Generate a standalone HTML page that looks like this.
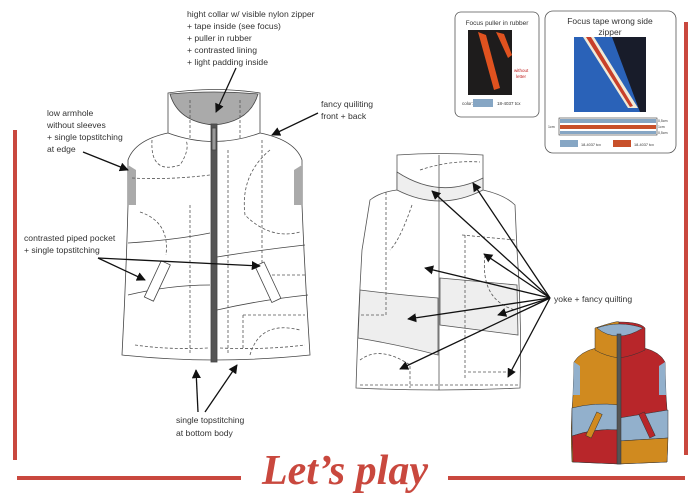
<!DOCTYPE html>
<html><head><meta charset="utf-8"><style>
html,body{margin:0;padding:0;background:#fff;width:700px;height:495px;overflow:hidden}
svg{display:block}
text{font-family:"Liberation Sans",sans-serif;fill:#333}
</style></head><body>
<svg width="700" height="495" viewBox="0 0 700 495" xmlns="http://www.w3.org/2000/svg">
<defs>
<marker id="a" viewBox="0 0 10 10" refX="9" refY="5" markerWidth="7" markerHeight="7" orient="auto"><path d="M0,0L10,5L0,10z" fill="#111"/></marker>
</defs>
<rect x="13" y="130" width="4" height="330" fill="#c9483e"/>
<rect x="684" y="22" width="4" height="433" fill="#c9483e"/>
<rect x="17" y="476" width="224" height="4" fill="#c9483e"/>
<rect x="448" y="476" width="237" height="4" fill="#c9483e"/>
<text x="345" y="484" text-anchor="middle" style="font-family:'Liberation Serif',serif;font-style:italic;font-weight:bold;font-size:42px;fill:#c9483e">Let’s play</text>

<g font-size="8.6">
<text x="187" y="17">hight collar w/ visible nylon zipper</text>
<text x="187" y="29">+ tape inside (see focus)</text>
<text x="187" y="41">+ puller in rubber</text>
<text x="187" y="53">+ contrasted lining</text>
<text x="187" y="65">+ light padding inside</text>
<text x="47" y="116">low armhole</text>
<text x="47" y="128">without sleeves</text>
<text x="47" y="140">+ single topstitching</text>
<text x="47" y="152">at edge</text>
<text x="321" y="107">fancy quiliting</text>
<text x="321" y="119">front + back</text>
<text x="24" y="241">contrasted piped pocket</text>
<text x="24" y="253">+ single topstitching</text>
<text x="176" y="423">single topstitching</text>
<text x="176" y="436">at bottom body</text>
<text x="554" y="302">yoke + fancy quilting</text>
</g>

<g stroke="#444" stroke-width="0.8" fill="#fff">
<path d="M128,160 Q135,140 168,133 L168,93 Q214,86 260,93 L260,133 Q295,140 302,160 L302,205 Q305,280 310,355 Q214,365 122,355 Q126,280 128,205 Z"/>
<path d="M170,94 Q214,90 258,94 Q250,122 214,125 Q178,122 170,94Z" fill="#aaa"/>
<path d="M128,165 L136,170 L136,205 L128,205Z" fill="#aaa" stroke="none"/>
<path d="M302,165 L294,170 L294,205 L302,205Z" fill="#aaa" stroke="none"/>
<path d="M168,133 Q214,150 260,133" fill="none"/>
<rect x="211" y="124" width="6" height="238" fill="#555"/>
<rect x="212" y="128" width="4" height="22" fill="#999"/>
<path d="M128,243 Q175,240 210,233 M217,257 Q260,250 305,245 M128,295 Q170,285 210,285 M217,310 Q260,300 308,295" fill="none"/>
<g stroke-dasharray="3,2" fill="none" stroke="#555">
<path d="M132,178 Q170,180 210,175 M135,345 Q170,350 208,348 M220,348 Q265,350 305,345"/>
<path d="M190,100 L190,140 M240,100 L240,140 M190,205 L190,355 M228,150 L228,355 M262,140 L262,275 L305,275"/>
<path d="M152,140 Q150,175 180,165 Q190,150 186,140 M140,212 Q170,222 166,255 M270,150 Q240,175 245,215 Q270,240 300,232 M243,315 L305,315 M243,315 L243,350 M250,355 Q260,320 300,330"/>
</g>
<g transform="rotate(25 160 280)"><rect x="153" y="262" width="10" height="40"/></g>
<g transform="rotate(-25 268 280)"><rect x="262" y="262" width="10" height="40"/></g>
</g>

<g stroke="#555" stroke-width="0.8" fill="#fff">
<path d="M370,200 Q380,192 397,190 L397,155 Q440,152 483,155 L483,190 Q505,195 515,205 L517,250 Q522,320 520,388 Q440,392 356,388 Q358,320 362,250 Z"/>
<path d="M397,172 Q440,200 483,178 L483,190 Q440,212 397,190Z" fill="#eee"/>
<path d="M360,290 Q400,295 438,298 L438,355 Q400,345 358,338Z" fill="#eee"/>
<path d="M440,278 L517,285 L518,335 Q480,330 440,325Z" fill="#eee"/>
<line x1="439" y1="155" x2="439" y2="390"/>
<g stroke-dasharray="3,2" fill="none">
<path d="M386,192 L386,315 L360,315 M412,205 Q400,240 390,250 M462,235 L515,240 M465,235 L465,380 M485,255 Q480,300 515,310 M360,360 Q380,345 410,365 L410,388 M468,372 L515,372 M420,170 Q450,160 480,162 M360,385 L518,385"/>
</g>
</g>
<g stroke="#111" stroke-width="1.3" fill="none" marker-end="url(#a)">
<line x1="236" y1="68" x2="216" y2="112"/>
<line x1="318" y1="113" x2="272" y2="135"/>
<line x1="83" y1="152" x2="128" y2="170"/>
<line x1="98" y1="258" x2="260" y2="266"/>
<line x1="98" y1="258" x2="145" y2="280"/>
<line x1="198" y1="412" x2="196" y2="370"/>
<line x1="205" y1="412" x2="237" y2="365"/>
<line x1="550" y1="298" x2="432" y2="191"/>
<line x1="550" y1="298" x2="473" y2="183"/>
<line x1="550" y1="298" x2="484" y2="254"/>
<line x1="550" y1="298" x2="425" y2="268"/>
<line x1="550" y1="298" x2="408" y2="319"/>
<line x1="550" y1="298" x2="498" y2="315"/>
<line x1="550" y1="298" x2="400" y2="369"/>
<line x1="550" y1="298" x2="508" y2="377"/>
</g>

<rect x="455" y="12" width="84" height="105" rx="6" fill="#fff" stroke="#555" stroke-width="0.8"/>
<text x="497" y="25" font-size="6.5" text-anchor="middle">Focus puller in rubber</text>
<rect x="468" y="30" width="44" height="65" fill="#1e1c1c"/>
<path d="M478,32 L486,35 L500,88 L494,90Z" fill="#e0521f"/>
<path d="M496,32 L504,34 L512,55 L508,58Z" fill="#e0521f"/>
<text x="514" y="72" font-size="4.5" style="fill:#c02020">without</text>
<text x="516" y="78" font-size="4.5" style="fill:#c02020">letter</text>
<text x="462" y="105" font-size="4.5">color:</text>
<rect x="473" y="99" width="20" height="8" fill="#86a6c4"/>
<text x="497" y="105" font-size="4.5">18-4037 tcx</text>

<rect x="545" y="11" width="131" height="142" rx="8" fill="#fff" stroke="#555" stroke-width="0.8"/>
<text x="610" y="24" font-size="8.5" text-anchor="middle">Focus tape wrong side</text>
<text x="610" y="35" font-size="8.5" text-anchor="middle">zipper</text>
<rect x="574" y="37" width="72" height="75" fill="#2a62b8"/>
<path d="M612,37 L646,37 L646,112 L640,112Z" fill="#181c2a"/>
<path d="M583,37 L594,37 L638,108 L628,108Z" fill="#f0ead8"/>
<path d="M586,37 L591,37 L633,106 L630,107Z" fill="#c8402a"/>
<rect x="559" y="118" width="98" height="17" fill="#fff" stroke="#333" stroke-width="0.6"/>
<rect x="560" y="119" width="96" height="4" fill="#86a6c4"/>
<rect x="560" y="125" width="96" height="4" fill="#c8502a"/>
<rect x="560" y="131" width="96" height="3" fill="#86a6c4"/>
<text x="548" y="128" font-size="3.5">1cm</text>
<text x="658" y="122" font-size="3.5">0,5cm</text>
<text x="658" y="128" font-size="3.5">1cm</text>
<text x="658" y="134" font-size="3.5">0,5cm</text>
<rect x="560" y="140" width="18" height="7" fill="#86a6c4"/>
<text x="581" y="146" font-size="3.8">18-4037 tcx</text>
<rect x="613" y="140" width="18" height="7" fill="#c8502a"/>
<text x="634" y="146" font-size="3.8">18-4037 tcx</text>

<!-- colored vest -->
<g stroke="#333" stroke-width="0.5">
<!-- left body orange -->
<path d="M596,348 Q580,352 574,362 L573,395 Q570,430 572,462 L619,464 L619,348Z" fill="#d08a1f"/>
<!-- right body red -->
<path d="M619,348 L644,348 Q660,352 665,362 L666,395 Q669,430 667,462 L619,464Z" fill="#b8262a"/>
<!-- collar -->
<path d="M595,350 L595,328 Q619,320 619,322 L619,358 Q605,356 595,350Z" fill="#d08a1f"/>
<path d="M619,322 Q640,322 645,328 L645,350 Q633,356 619,358Z" fill="#b8262a"/>
<path d="M597,328 Q619,320 643,328 Q630,336 619,336 Q606,336 597,328Z" fill="#92b0cc"/>
<!-- blue bands -->
<path d="M572,408 Q595,402 619,405 L619,430 Q595,428 572,436Z" fill="#92b0cc"/>
<path d="M619,418 L668,410 L668,438 L619,441Z" fill="#92b0cc"/>
<!-- bottom -->
<path d="M572,436 Q595,428 619,430 L619,464 L573,462Z" fill="#b8262a"/>
<path d="M619,441 L668,438 L667,462 L619,464Z" fill="#d08a1f"/>
<path d="M574,362 L580,366 L580,395 L573,395Z" fill="#92b0cc" stroke="none"/>
<path d="M665,362 L659,366 L659,395 L666,395Z" fill="#92b0cc" stroke="none"/>
<rect x="617" y="334" width="4" height="130" fill="#555"/>
<g transform="rotate(25 594 425)"><rect x="591" y="412" width="6" height="26" fill="#d08a1f"/></g>
<g transform="rotate(-25 647 425)"><rect x="644" y="412" width="6" height="26" fill="#b8262a"/></g>
</g>
</svg>
</body></html>
